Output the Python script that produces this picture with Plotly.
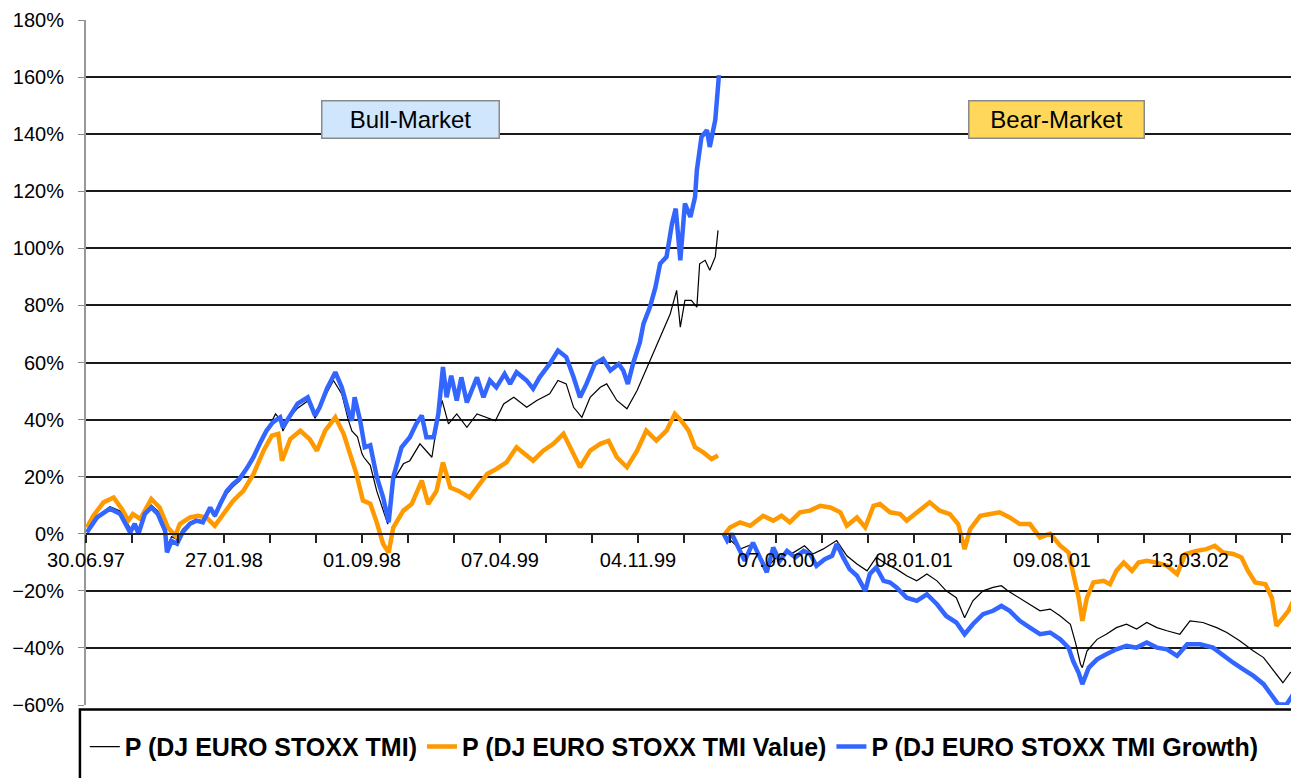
import plotly.graph_objects as go

# ---------------- data (trading-day index since 30.06.97, % performance) ----------------
tick_days = [0, 150, 300, 450, 600, 750, 900, 1050, 1200]
tick_labels = ["30.06.97", "27.01.98", "01.09.98", "07.04.99", "04.11.99",
               "07.06.00", "08.01.01", "09.08.01", "13.03.02"]
minor_tick_days = list(range(0, 1301, 50))

# Bull-market phase
tmi_bull_day = [1, 12, 26, 37, 48, 57, 64, 71, 78, 86, 88, 93, 99, 105, 113, 120, 127, 135, 140, 146,
                153, 160, 167, 175, 182, 189, 196, 203, 206, 211, 214, 222, 230, 241, 249, 254, 262, 269,
                278, 285, 289, 295, 300, 302, 309, 316, 323, 328, 334, 345, 352, 363, 376, 381, 387, 394,
                403, 414, 425, 436, 445, 454, 465, 479, 490, 504, 513, 522, 530, 539, 548, 559, 566, 577,
                588, 599, 613, 624, 635, 642, 646, 651, 658, 664, 667, 673, 678, 684, 687]
tmi_bull = [0.5, 6, 9.5, 8, 2, 1.5, 7.5, 10, 8, 2, -4.5, -1, -2, 1.5, 4, 5, 4.5, 8.5, 6, 9.5,
            14, 16.5, 18.5, 22.5, 26, 31, 35.5, 39.5, 42, 40, 36, 41, 44, 46.5, 40.5, 43.5, 49.5, 53.7,
            49, 40, 36, 34, 28, 26.8, 24, 15, 8, 3.4, 18.6, 24.5, 25.6, 31.5, 26.8, 37.3, 46.7, 38.5,
            42, 37.3, 42, 40.8, 39.6, 45.5, 47.8, 44.3, 46.7, 49, 53.7, 52.5, 44.3, 40.8, 47.8, 51.3, 52.5, 46.7,
            43.8, 50.2, 60.7, 68.9, 77, 85.3, 72.4, 81.8, 81.8, 79.4, 94.6, 95.8, 92.3, 97, 106.3]

value_bull_day = [1, 8, 19, 30, 39, 46, 51, 59, 71, 80, 89, 97, 102, 113, 122, 131, 140, 149, 160, 171,
                  182, 193, 202, 209, 213, 222, 233, 243, 251, 260, 271, 280, 287, 294, 301, 309, 316, 323,
                  329, 334, 345, 354, 365, 372, 381, 388, 396, 405, 417, 425, 436, 446, 457, 468, 477, 486,
                  497, 508, 519, 526, 537, 548, 559, 568, 577, 588, 599, 609, 620, 631, 640, 647, 655, 662,
                  671, 680, 687]
value_bull = [2.2, 6.3, 11, 12.7, 8.7, 4.6, 6.9, 5.2, 12.2, 9.2, 2.2, -0.7, 3.4, 5.7, 6.3, 5.7, 2.8, 6.9, 11.6, 15,
              20.9, 29.1, 34.4, 35, 25.6, 33.2, 36.1, 33.2, 29.1, 36.1, 40.8, 35, 28, 20.9, 11.6, 10.5, 4, -3.6,
              -6.6, 2.2, 8.1, 10.4, 18.6, 10.4, 15, 25, 16.2, 15, 12.7, 16.2, 20.9, 22.7, 25, 30.3, 28, 25.6,
              29.1, 31.5, 35, 30.3, 23.3, 29.1, 31.5, 32.6, 26.8, 23.3, 29.1, 36.1, 32.6, 36.1, 42, 39.6, 36.1, 30.3,
              28.5, 26.2, 27.4]

growth_bull_day = [1, 12, 26, 37, 48, 53, 57, 64, 71, 78, 86, 88, 93, 99, 105, 113, 120, 127, 135, 140,
                   146, 153, 160, 167, 175, 182, 189, 196, 203, 211, 214, 222, 230, 241, 249, 254, 262, 271,
                   278, 285, 289, 292, 298, 303, 309, 316, 323, 329, 334, 343, 352, 359, 365, 370, 378, 383,
                   388, 392, 397, 403, 408, 414, 425, 432, 439, 446, 455, 461, 468, 479, 486, 493, 504, 513,
                   522, 530, 537, 544, 553, 562, 570, 579, 584, 589, 595, 602, 606, 613, 619, 624, 631, 637,
                   641, 646, 651, 657, 662, 664, 669, 675, 678, 684, 686, 688]
growth_bull = [0.5, 5.7, 8.8, 7, 0.5, 3.5, 0, 7, 9.2, 7, 1, -6.5, -2.5, -3.5, 0.5, 3.5, 4.6, 4, 9.2, 6.3,
               10.5, 15, 17.5, 19.3, 23, 26.8, 31.6, 36, 39, 40.8, 37.3, 41.4, 45.6, 47.8, 41.4, 44.3, 50.9, 56.6,
               51.3, 43.2, 39.6, 47.8, 39.6, 30.3, 31, 20, 12.7, 4, 19.8, 30.3, 33.8, 38.5, 41.4, 33.8, 33.8, 42,
               58.4, 47.8, 55.4, 46.7, 54.8, 46, 54.8, 47.8, 53.7, 51.3, 56, 52.5, 56.6, 53.7, 50.8, 54.8, 59.5, 64.2,
               61.9, 54.8, 47.8, 52.5, 59.5, 61.3, 57.2, 59.5, 57.2, 52.5, 60, 67, 73.6, 79.4, 86.4, 94.6, 97, 108.7,
               113.9, 95.8, 115.7, 111, 118, 127.4, 139, 141.4, 135.5, 145, 153, 160.7]

# Bear-market phase (rebased to 0%)
tmi_bear_day = [693, 711, 725, 740, 754, 769, 781, 790, 801, 816, 827, 838, 849, 859, 870, 881, 892, 903,
                914, 925, 935, 946, 955, 964, 975, 986, 995, 1002, 1008, 1022, 1037, 1048, 1059, 1070, 1076,
                1081, 1083, 1088, 1099, 1109, 1120, 1131, 1142, 1153, 1164, 1175, 1189, 1200, 1214, 1229,
                1240, 1254, 1269, 1280, 1291, 1301, 1309, 1318]
tmi_bear = [0, -5.4, -3.6, -11.8, -7.1, -6.6, -4.2, -7.1, -5.4, -2.4, -7.7, -10.6, -13, -8.3, -10.6, -12.4, -14.7, -16.5,
            -14.1, -16.5, -20, -22.4, -29.4, -23.5, -20, -18.8, -18.2, -20, -21.2, -24.1, -27, -26.4, -28.8, -31.7, -38.7,
            -45.7, -46.9, -41.1, -37, -35.2, -32.9, -31.7, -33.4, -31.1, -32.9, -34, -35.2, -30.5, -31.1, -32.9,
            -34.6, -37.5, -41.1, -43.4, -48.1, -52.2, -48.7, -46.9]

value_bear_day = [693, 700, 711, 722, 736, 747, 756, 765, 776, 787, 798, 809, 820, 827, 838, 847, 856, 863,
                  874, 885, 892, 903, 917, 928, 939, 948, 955, 961, 972, 983, 993, 1004, 1015, 1026, 1037,
                  1048, 1059, 1068, 1073, 1079, 1083, 1088, 1095, 1106, 1113, 1120, 1128, 1137, 1144, 1153,
                  1164, 1175, 1186, 1195, 1207, 1218, 1227, 1236, 1247, 1256, 1263, 1271, 1282, 1289, 1294,
                  1301, 1307, 1314, 1318]
value_bear = [-0.7, 2.2, 4, 2.8, 6.3, 4.6, 6.3, 4, 7.5, 8.1, 9.8, 9.2, 7.5, 2.8, 5.7, 2.2, 9.8, 10.4,
              7.5, 6.9, 4.6, 7.5, 11, 8.1, 6.9, 3.4, -5.4, 1.6, 6.3, 6.9, 7.5, 5.7, 3.4, 3.4, -1.3,
              0, -4.2, -6.6, -14.1, -22.4, -30.5, -22.4, -17.1, -16.5, -17.7, -13, -10.1, -13, -10.1, -9.5,
              -10.1, -11.2, -14.1, -7.1, -6, -5.4, -4.2, -6.6, -7.1, -8.3, -13, -17.1, -17.7, -22.4, -32.3,
              -29.5, -27, -22.4, -24.7]

growth_bear_day = [693, 697, 702, 711, 716, 725, 733, 740, 747, 754, 762, 771, 780, 787, 794, 803, 811, 816,
                   823, 830, 838, 847, 852, 859, 867, 874, 881, 892, 903, 914, 925, 935, 946, 955, 964, 975,
                   986, 995, 1004, 1015, 1026, 1037, 1048, 1059, 1068, 1073, 1079, 1083, 1090, 1099, 1109,
                   1120, 1131, 1142, 1153, 1164, 1175, 1186, 1197, 1211, 1225, 1236, 1247, 1258, 1269, 1280,
                   1289, 1296, 1305, 1312, 1318]
growth_bear = [0, -2.4, 0, -6.6, -9.5, -3.1, -8.3, -13.5, -4.8, -9.5, -6, -8.3, -6, -7.1, -11.2, -8.9, -7.7, -3.6,
               -8.3, -12.4, -14.7, -20, -14.1, -11.8, -16.5, -17.1, -18.8, -22.4, -23.5, -21.2, -24.7, -28.8, -31.1, -35.2, -31.7, -28.2,
               -27, -25.3, -27, -30.5, -32.9, -35.2, -34.6, -37, -39.9, -44.6, -48.7, -52.7, -46.9, -44, -42.2,
               -40.5, -39.3, -39.9, -38.1, -39.9, -40.5, -42.8, -38.7, -38.7, -39.9, -42.8, -45.2, -47.5, -49.8, -52.7,
               -56.8, -59.8, -59.8, -56.3, -58.6]

series_names = ["P (DJ EURO STOXX TMI)", "P (DJ EURO STOXX TMI Value)", "P (DJ EURO STOXX TMI Growth)"]
phase_labels = ["Bull-Market", "Bear-Market"]


def join(a_day, a_val, b_day, b_val):
    return a_day + [None] + b_day, a_val + [None] + b_val


FONT = "Liberation Sans, Arial, sans-serif"
fig = go.Figure()

specs = [
    (tmi_bull_day, tmi_bull, tmi_bear_day, tmi_bear, "#000000", 1.2),
    (value_bull_day, value_bull, value_bear_day, value_bear, "#ff9900", 4.5),
    (growth_bull_day, growth_bull, growth_bear_day, growth_bear, "#3366ff", 4.5),
]
for name, (bd, bv, rd, rv, col, w) in zip(series_names, specs):
    xs, ys = join(bd, bv, rd, rv)
    fig.add_trace(go.Scatter(x=xs, y=ys, mode="lines", name=name,
                             line=dict(color=col, width=w), connectgaps=False,
                             hoverinfo="skip"))

ticktext = [tick_labels[tick_days.index(d)] if d in tick_days else "" for d in minor_tick_days]

fig.update_layout(
    width=1291, height=770,
    margin=dict(l=78, r=0, t=12, b=73),
    paper_bgcolor="white", plot_bgcolor="white",
    font=dict(family=FONT, color="black"),
    showlegend=True,
    legend=dict(orientation="h", x=-0.001, xanchor="left", y=-0.061, yanchor="middle",
                font=dict(family=FONT, size=25, color="black", weight="bold"),
                bgcolor="rgba(0,0,0,0)", borderwidth=0, itemwidth=30, tracegroupgap=0),
    xaxis=dict(range=[0, 1318.5], anchor="free", position=0.25,
               tickmode="array", tickvals=minor_tick_days, ticktext=ticktext,
               ticks="outside", ticklen=8, tickcolor="#222", tickwidth=1.5,
               showline=True, linecolor="#222", linewidth=2, showgrid=False, zeroline=False,
               tickfont=dict(family=FONT, size=20, color="black")),
    yaxis=dict(range=[-60, 180], dtick=20, tick0=0, ticksuffix="%",
               ticks="outside", ticklen=6, tickcolor="#888", ticklabelstandoff=10,
               showline=True, linecolor="#999", linewidth=2,
               showgrid=True, gridcolor="#1a1a1a", gridwidth=1.6, zeroline=False,
               tickfont=dict(family=FONT, size=20, color="black")),
)

# phase labels
fig.add_annotation(x=353, y=145, xref="x", yref="y", text=phase_labels[0], showarrow=False,
                   font=dict(family=FONT, size=24, color="black"),
                   bgcolor="#cfe6fd", bordercolor="#8a8a8a", borderwidth=1.5, borderpad=2,
                   width=172, height=32)
fig.add_annotation(x=1055, y=145, xref="x", yref="y", text=phase_labels[1], showarrow=False,
                   font=dict(family=FONT, size=24, color="black"),
                   bgcolor="#ffd75a", bordercolor="#8a8a8a", borderwidth=1.5, borderpad=2,
                   width=170, height=32)

# legend frame (extends past the right/bottom edges as in the original)
fig.add_shape(type="rect", xref="paper", yref="paper", x0=-0.005, x1=1.02, y0=-0.2, y1=-0.0065,
              line=dict(color="black", width=2.5), fillcolor="rgba(0,0,0,0)", layer="above")

fig.write_html("out.html")
